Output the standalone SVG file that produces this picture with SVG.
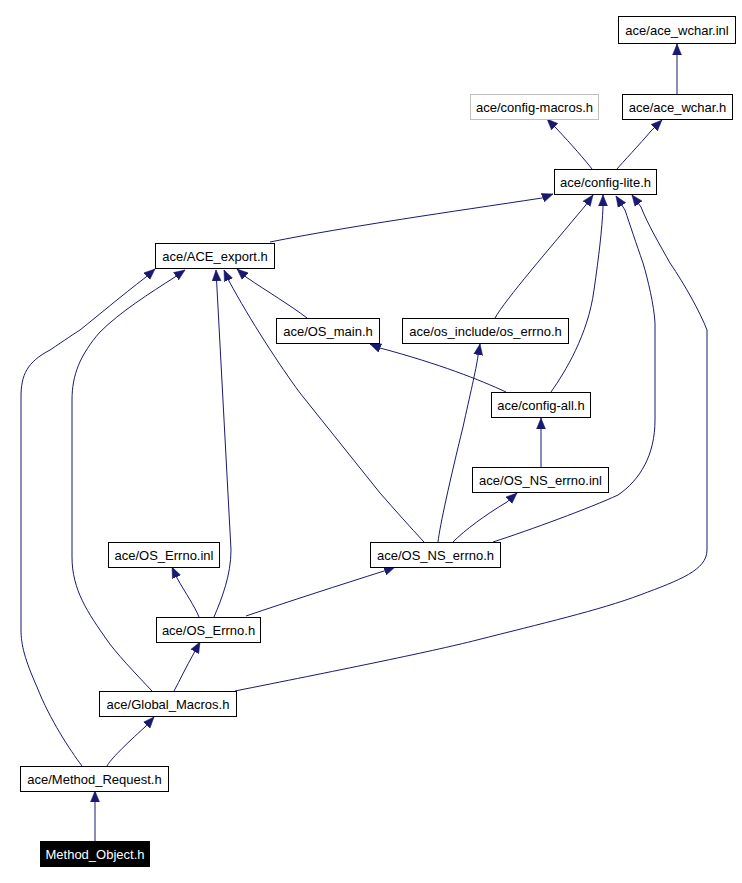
<svg xmlns="http://www.w3.org/2000/svg" width="742" height="883" viewBox="0 0 742 883">
<style>
.n rect{fill:#fff;stroke:#000;stroke-width:1}
.n text{font-family:"Liberation Sans",Arial,sans-serif;font-size:13px;text-anchor:middle;fill:#000}
#n_cfgmacros rect{stroke:#bfbfbf}
#n_methodobj rect{fill:#000}
#n_methodobj text{fill:#fff}
.e path{fill:none;stroke:#191970;stroke-width:1;marker-end:url(#ah)}
</style>
<defs>
<marker id="ah" markerUnits="userSpaceOnUse" markerWidth="12" markerHeight="10" refX="11" refY="5" orient="auto">
<path d="M0,0.5 L11,5 L0,9.5 z" fill="#191970" stroke="#191970" stroke-width="0.5"/>
</marker>
</defs>
<rect width="742" height="883" fill="#fff"/>
<g id="edges" class="e">
<path d="M677,94 L677,44"/>
<path d="M592,169 C585,160 572,145 556,128 L547,119"/>
<path d="M617,169 C622,163 640,144 651,131 L662,120"/>
<path d="M270,242 C350,226 450,212 542,198 L553,194"/>
<path d="M307,318 C290,305 268,292 246,277 L237,269"/>
<path d="M495,318 C505,300 550,248 585,206 L593,195"/>
<path d="M506,392 C480,380 440,364 380,348 L370,344"/>
<path d="M551,392 C565,372 588,335 594,290 C599,255 602,230 603,207 L603,195"/>
<path d="M541,467 L541,418"/>
<path d="M453,542 C465,530 485,515 507,502 L517,493"/>
<path d="M438,542 C440,525 450,480 463,427 C470,395 476,370 478,356 L480,344"/>
<path d="M424,542 C410,527 395,510 380,493 L300,393 C280,366 250,320 229,281 L224,270"/>
<path d="M493,542 C530,530 590,508 618,495 C640,480 655,455 655,420 L655,323 C654,305 648,280 643,263 C636,243 630,225 625,210 L616,196"/>
<path d="M199,617 C194,605 186,594 177,578 L172,567"/>
<path d="M214,617 C222,598 231,575 231,550 L216,270"/>
<path d="M246,616 C290,601 340,585 384,571 L395,567"/>
<path d="M174,691 C180,680 186,667 194,653 L200,642"/>
<path d="M152,691 C135,673 115,652 107,640 C88,613 72,590 72,557 L72,400 C72,375 80,355 100,332 C120,312 150,293 175,277 L185,270"/>
<path d="M235,691 C330,672 430,652 477,640 C540,624 600,610 640,595 C680,580 707,570 707,550 L707,330 C700,312 685,285 670,263 C660,245 648,225 641,207 L632,195"/>
<path d="M107,766 C110,760 125,745 145,727 L154,717"/>
<path d="M82,766 C70,750 50,720 37,687 C25,660 21,645 21,630 L21,397 C21,375 27,362 50,350 C65,340 75,333 80,330 C100,314 120,297 146,277 L155,269"/>
<path d="M95,841 L95,791"/>
</g>
<g id="n_wcharinl" class="n"><rect x="618.5" y="16.5" width="117" height="27"/><text x="677" y="35">ace/ace_wchar.inl</text></g>
<g id="n_cfgmacros" class="n"><rect x="470.5" y="94.5" width="128" height="25"/><text x="534.5" y="112">ace/config-macros.h</text></g>
<g id="n_wcharh" class="n"><rect x="622.5" y="94.5" width="110" height="25"/><text x="677.5" y="112">ace/ace_wchar.h</text></g>
<g id="n_cfglite" class="n"><rect x="554.5" y="169.5" width="102" height="25"/><text x="605.5" y="187">ace/config-lite.h</text></g>
<g id="n_aceexport" class="n"><rect x="155.5" y="243.5" width="119" height="25"/><text x="215" y="261">ace/ACE_export.h</text></g>
<g id="n_osmain" class="n"><rect x="276.5" y="318.5" width="103" height="25"/><text x="328" y="336">ace/OS_main.h</text></g>
<g id="n_oserrno" class="n"><rect x="402.5" y="318.5" width="166" height="25"/><text x="485.5" y="336">ace/os_include/os_errno.h</text></g>
<g id="n_cfgall" class="n"><rect x="491.5" y="392.5" width="99" height="25"/><text x="541" y="410">ace/config-all.h</text></g>
<g id="n_osnserrnoinl" class="n"><rect x="472.5" y="467.5" width="136" height="25"/><text x="540.5" y="485">ace/OS_NS_errno.inl</text></g>
<g id="n_osnserrnoh" class="n"><rect x="370.5" y="542.5" width="130" height="25"/><text x="435.5" y="560">ace/OS_NS_errno.h</text></g>
<g id="n_oserrnoinl" class="n"><rect x="108.5" y="542.5" width="111" height="25"/><text x="164" y="560">ace/OS_Errno.inl</text></g>
<g id="n_oserrnoh" class="n"><rect x="156.5" y="617.5" width="104" height="25"/><text x="208.5" y="635">ace/OS_Errno.h</text></g>
<g id="n_globalmacros" class="n"><rect x="99.5" y="691.5" width="137" height="25"/><text x="168" y="709">ace/Global_Macros.h</text></g>
<g id="n_methodreq" class="n"><rect x="20.5" y="766.5" width="148" height="25"/><text x="94.5" y="784">ace/Method_Request.h</text></g>
<g id="n_methodobj" class="n"><rect x="40.5" y="841.5" width="109" height="25"/><text x="95" y="859">Method_Object.h</text></g>
</svg>
